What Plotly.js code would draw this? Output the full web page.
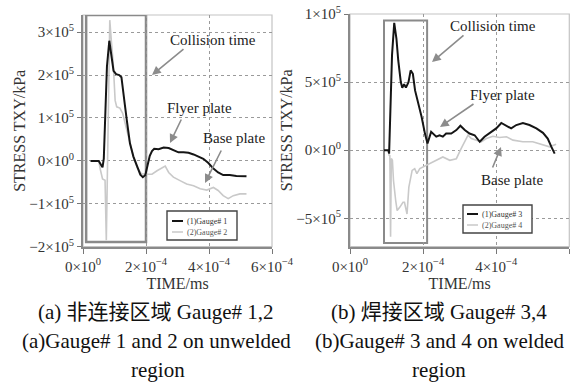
<!DOCTYPE html>
<html>
<head>
<meta charset="utf-8">
<script src="https://cdn.plot.ly/plotly-3.0.1.min.js"></script>
<style>html,body{margin:0;padding:0;background:#fff;}#chart{width:587px;height:385px;}</style>
</head>
<body>
<div id="chart"></div>
<script>
// ---- data (time in ms, stress in kPa) ----
const g1Time = [0.24e-4,0.50e-4,0.58e-4,0.62e-4,0.66e-4,0.70e-4,0.76e-4,0.835e-4,0.90e-4,0.97e-4,1.05e-4,1.15e-4,1.22e-4,1.27e-4,1.33e-4,1.39e-4,1.49e-4,1.60e-4,1.72e-4,1.82e-4,1.90e-4,1.98e-4,2.05e-4,2.12e-4,2.19e-4,2.26e-4,2.40e-4,2.56e-4,2.72e-4,2.87e-4,3.03e-4,3.19e-4,3.35e-4,3.51e-4,3.66e-4,3.82e-4,3.98e-4,4.14e-4,4.29e-4,4.45e-4,4.66e-4,4.87e-4,5.19e-4];
const g1Stress = [0,0,-0.1e5,-0.15e5,0.05e5,1.0e5,2.2e5,2.8e5,2.45e5,2.1e5,2.02e5,2.0e5,1.95e5,1.7e5,1.3e5,0.95e5,0.41e5,0.1e5,-0.15e5,-0.32e5,-0.38e5,-0.33e5,-0.1e5,0.12e5,0.23e5,0.28e5,0.27e5,0.31e5,0.3e5,0.25e5,0.2e5,0.2e5,0.19e5,0.15e5,0.1e5,0.05e5,-0.05e5,-0.18e5,-0.27e5,-0.33e5,-0.33e5,-0.35e5,-0.36e5];
const g2Time = [0.24e-4,0.50e-4,0.55e-4,0.62e-4,0.70e-4,0.74e-4,0.77e-4,0.82e-4,0.85e-4,0.90e-4,0.96e-4,1.02e-4,1.07e-4,1.17e-4,1.26e-4,1.39e-4,1.49e-4,1.60e-4,1.72e-4,1.85e-4,2.03e-4,2.19e-4,2.35e-4,2.51e-4,2.61e-4,2.72e-4,2.87e-4,3.08e-4,3.29e-4,3.51e-4,3.72e-4,3.93e-4,4.14e-4,4.29e-4,4.45e-4,4.61e-4,4.77e-4,4.98e-4,5.19e-4];
const g2Stress = [0,0,-0.2e5,-0.42e5,-0.45e5,-1.85e5,-0.5e5,2.5e5,3.28e5,2.8e5,2.27e5,1.41e5,1.26e5,1.23e5,1.11e5,0.72e5,0.41e5,0.1e5,-0.15e5,-0.3e5,-0.31e5,-0.31e5,-0.23e5,-0.15e5,-0.12e5,-0.27e5,-0.38e5,-0.46e5,-0.54e5,-0.58e5,-0.65e5,-0.68e5,-0.62e5,-0.69e5,-0.81e5,-0.88e5,-0.81e5,-0.77e5,-0.77e5];
const g3Time = [0.93e-4,1.05e-4,1.07e-4,1.10e-4,1.15e-4,1.21e-4,1.27e-4,1.32e-4,1.39e-4,1.43e-4,1.48e-4,1.53e-4,1.60e-4,1.66e-4,1.72e-4,1.78e-4,1.87e-4,1.96e-4,2.05e-4,2.12e-4,2.22e-4,2.36e-4,2.45e-4,2.54e-4,2.63e-4,2.77e-4,2.91e-4,3.02e-4,3.14e-4,3.27e-4,3.41e-4,3.55e-4,3.68e-4,3.82e-4,4.0e-4,4.14e-4,4.28e-4,4.41e-4,4.55e-4,4.73e-4,4.91e-4,5.10e-4,5.28e-4,5.41e-4,5.51e-4,5.60e-4];
const g3Stress = [0,0,-0.25e5,3.0e5,7.0e5,9.35e5,8.2e5,6.59e5,5.0e5,4.59e5,4.85e5,4.6e5,5.0e5,5.86e5,5.61e5,4.39e5,3.42e5,2.44e5,1.22e5,0.49e5,1.35e5,1.0e5,1.1e5,1.0e5,1.23e5,1.23e5,1.48e5,1.8e5,1.48e5,1.23e5,1.1e5,0.62e5,0.99e5,1.23e5,1.6e5,2.0e5,1.77e5,1.6e5,1.85e5,2.0e5,1.85e5,1.6e5,1.28e5,0.86e5,0.25e5,-0.25e5];
const g4Time = [1.05e-4,1.09e-4,1.11e-4,1.13e-4,1.16e-4,1.19e-4,1.25e-4,1.29e-4,1.36e-4,1.45e-4,1.49e-4,1.56e-4,1.61e-4,1.65e-4,1.70e-4,1.77e-4,1.83e-4,1.91e-4,2.00e-4,2.09e-4,2.18e-4,2.36e-4,2.54e-4,2.73e-4,2.91e-4,3.04e-4,3.14e-4,3.23e-4,3.32e-4,3.45e-4,3.59e-4,3.73e-4,3.91e-4,4.09e-4,4.28e-4,4.46e-4,4.73e-4,5.00e-4,5.28e-4,5.46e-4,5.64e-4];
const g4Stress = [-0.3e5,-0.4e5,-6.35e5,-0.6e5,-0.74e5,-2.22e5,-3.69e5,-4.43e5,-4.19e5,-3.82e5,-3.82e5,-4.68e5,-2.71e5,-2.22e5,-1.48e5,-1.35e5,-1.72e5,-1.35e5,-1.23e5,-1.11e5,-0.99e5,-0.74e5,-0.49e5,-0.74e5,-0.62e5,0.12e5,0.62e5,1.11e5,0.86e5,0.74e5,0.62e5,0.86e5,1.03e5,0.94e5,0.99e5,0.74e5,0.62e5,0.62e5,0.37e5,0.25e5,0.44e5];

const seriesNames = ['(1)Gauge# 1','(2)Gauge# 2','(1)Gauge# 3','(2)Gauge# 4'];
const xTickVals = [0,2e-4,4e-4,6e-4];
const xTickText = ['0×10<sup>0</sup>','2×10<sup>−4</sup>','4×10<sup>−4</sup>','6×10<sup>−4</sup>'];
const yTickValsA = [-2e5,-1e5,0,1e5,2e5,3e5];
const yTickTextA = ['−2×10<sup>5</sup>','−1×10<sup>5</sup>','0×10<sup>0</sup>','1×10<sup>5</sup>','2×10<sup>5</sup>','3×10<sup>5</sup>'];
const yTickValsB = [-5e5,0,5e5,1e6];
const yTickTextB = ['−5×10<sup>5</sup>','0×10<sup>0</sup>','5×10<sup>5</sup>','1×10<sup>5</sup>'];

// ---- layout helpers ----
const W = 587, H = 385;
const px = v => v / W, py = v => 1 - v / H;
const SERIF = 'Liberation Serif, Times New Roman, serif';
const CAPFONT = 'Liberation Serif, Noto Sans CJK SC, serif';
const BLACK = '#151515', GRAY = '#c9c9c9';

const traces = [
  {x:g1Time, y:g1Stress, name:seriesNames[0], xaxis:'x', yaxis:'y', mode:'lines', line:{color:BLACK,width:2}},
  {x:g2Time, y:g2Stress, name:seriesNames[1], xaxis:'x', yaxis:'y', mode:'lines', line:{color:GRAY,width:1.6}},
  {x:g4Time, y:g4Stress, name:seriesNames[3], xaxis:'x2', yaxis:'y2', mode:'lines', line:{color:GRAY,width:1.6}},
  {x:g3Time, y:g3Stress, name:seriesNames[2], xaxis:'x2', yaxis:'y2', mode:'lines', line:{color:BLACK,width:2}}
];
// draw black above gray on left
traces.splice(0,2,traces[1],traces[0]);

function xAxis(domain, anchor){
  return {domain:domain, anchor:anchor, range:[0,6e-4], tickvals:xTickVals, ticktext:xTickText,
    showgrid:true, griddash:'dot', gridcolor:'#9a9a9a', gridwidth:1, zeroline:false,
    showline:true, linecolor:'#8a8a8a', linewidth:2, ticks:'outside', ticklen:5, tickcolor:'#777',
    tickfont:{family:SERIF,size:15,color:'#333'}, automargin:false,
    title:{text:'TIME/ms', font:{family:SERIF,size:16,color:'#333'}, standoff:3}};
}
function yAxis(domain, anchor, range, tv, tt, title){
  return {domain:domain, anchor:anchor, range:range, tickvals:tv, ticktext:tt,
    showgrid:true, griddash:'dot', gridcolor:'#9a9a9a', gridwidth:1, zeroline:false,
    showline:true, linecolor:'#8a8a8a', linewidth:2, ticks:'outside', ticklen:4, tickcolor:'#777',
    tickfont:{family:SERIF,size:15,color:'#333'}, automargin:false,
    title:{text:title, font:{family:SERIF,size:16,color:'#333'}, standoff:0}};
}

const ann = [];
function txt(t, x, y, size, extra){
  ann.push(Object.assign({text:t, xref:'paper', yref:'paper', x:px(x), y:py(y), showarrow:false,
    xanchor:'center', yanchor:'middle', font:{family:SERIF,size:size,color:'#222'}}, extra||{}));
}
function arrow(hx, hy, tx, ty){
  ann.push({text:'', xref:'paper', yref:'paper', x:px(hx), y:py(hy), ax:tx-hx, ay:ty-hy,
    showarrow:true, arrowhead:2, arrowsize:1.1, arrowwidth:1.6, arrowcolor:'#8c8c8c'});
}
// left panel labels
txt('Collision time',213,40,15); arrow(152,75,185,48);
txt('Flyer plate',199,108,15); arrow(170,143,182,118);
txt('Base plate',234,138,15); arrow(205,183,222,149);
// right panel labels
txt('Collision time',493,26,15); arrow(432,62,465,34);
txt('Flyer plate',502,95,15); arrow(440,127,475,103);
txt('Base plate',512,180,15); arrow(501,147,492,169);
// legends (custom, compact)
txt(seriesNames[0],185,221,8,{xanchor:'left', font:{family:SERIF,size:8,color:'#333'}});
txt(seriesNames[1],185,232,8,{xanchor:'left', font:{family:SERIF,size:8,color:'#555'}});
txt(seriesNames[2],480,214,8,{xanchor:'left', font:{family:SERIF,size:8,color:'#333'}});
txt(seriesNames[3],480,225,8,{xanchor:'left', font:{family:SERIF,size:8,color:'#555'}});
// captions
txt('(a) 非连接区域 Gauge# 1,2',156,312,21,{font:{family:CAPFONT,size:21,color:'#111'}});
txt('(a)Gauge# 1 and 2 on unwelded',156,341,21,{font:{family:SERIF,size:21,color:'#111'}});
txt('region',158,370,21,{font:{family:SERIF,size:21,color:'#111'}});
txt('(b) 焊接区域 Gauge# 3,4',439,312,21,{font:{family:CAPFONT,size:21,color:'#111'}});
txt('(b)Gauge# 3 and 4 on welded',440,341,21,{font:{family:SERIF,size:21,color:'#111'}});
txt('region',439,370,21,{font:{family:SERIF,size:21,color:'#111'}});

const shapes = [
  {type:'rect', xref:'x domain', yref:'y domain', x0:0,x1:1,y0:0,y1:1, line:{color:'#c4c4c4',width:1.2}, layer:'below'},
  {type:'rect', xref:'x2 domain', yref:'y2 domain', x0:0,x1:1,y0:0,y1:1, line:{color:'#c4c4c4',width:1.2}, layer:'below'},
  // highlighted collision windows
  {type:'rect', xref:'x', yref:'y', x0:0.1e-4, x1:2.0e-4, y0:-1.89e5, y1:3.4e5, line:{color:'#8a8a8a',width:2.5}, layer:'below'},
  {type:'rect', xref:'x2', yref:'y2', x0:0.93e-4, x1:2.11e-4, y0:-6.81e5, y1:9.52e5, line:{color:'#8a8a8a',width:2}, layer:'below'},
  // legend boxes
  {type:'rect', xref:'paper', yref:'paper', x0:px(167), x1:px(237), y0:py(240), y1:py(211), line:{color:'#444',width:1.4}, fillcolor:'#fff'},
  {type:'line', xref:'paper', yref:'paper', x0:px(172), x1:px(183), y0:py(221), y1:py(221), line:{color:BLACK,width:2}},
  {type:'line', xref:'paper', yref:'paper', x0:px(172), x1:px(183), y0:py(232), y1:py(232), line:{color:GRAY,width:1.5}},
  {type:'rect', xref:'paper', yref:'paper', x0:px(463), x1:px(532), y0:py(233), y1:py(205), line:{color:'#444',width:1.4}, fillcolor:'#fff'},
  {type:'line', xref:'paper', yref:'paper', x0:px(467), x1:px(478), y0:py(214), y1:py(214), line:{color:BLACK,width:2}},
  {type:'line', xref:'paper', yref:'paper', x0:px(467), x1:px(478), y0:py(225), y1:py(225), line:{color:GRAY,width:1.5}}
];

const layout = {
  width:W, height:H, margin:{l:0,r:0,t:0,b:0}, paper_bgcolor:'#fff', plot_bgcolor:'#fff',
  showlegend:false, font:{family:SERIF,color:'#333'},
  xaxis: xAxis([px(83), px(272)], 'y'),
  yaxis: yAxis([py(246.7), py(15)], 'x', [-2e5,3.4e5], yTickValsA, yTickTextA, 'STRESS TXY/kPa'),
  xaxis2: xAxis([px(350), px(569.3)], 'y2'),
  yaxis2: yAxis([py(246.7), py(14)], 'x2', [-7.08e5,1e6], yTickValsB, yTickTextB, 'STRESS TXY/kPa'),
  annotations: ann, shapes: shapes
};
Plotly.newPlot('chart', traces, layout, {displayModeBar:false, staticPlot:true});
</script>
</body>
</html>
